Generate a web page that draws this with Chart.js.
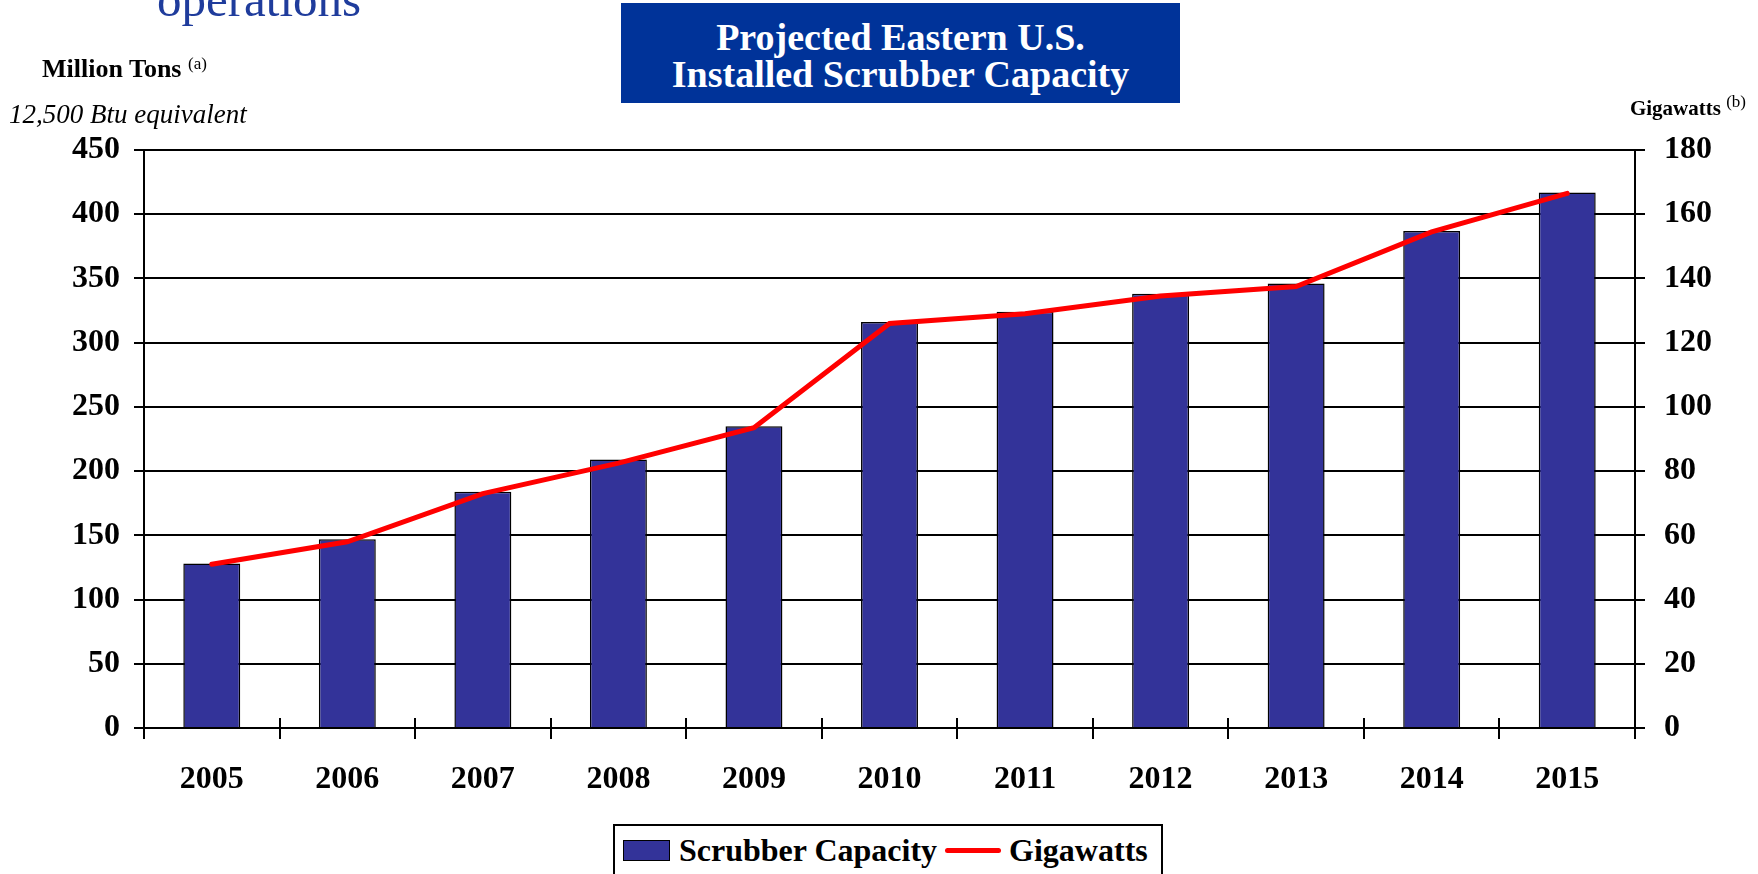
<!DOCTYPE html>
<html>
<head>
<meta charset="utf-8">
<script src="https://cdn.jsdelivr.net/npm/chart.js@4"></script>
<style>
  html, body { margin: 0; padding: 0; background: #fff; }
  #wrap { position: relative; width: 1758px; height: 874px; overflow: hidden; font-family: "Liberation Serif", "Times New Roman", serif; color: #000; }
  #chartBox { position: absolute; left: 0; top: 0; width: 1758px; height: 874px; }
  .txt { position: absolute; white-space: nowrap; }
  .slideHead { left: 157px; top: -25px; font-size: 49px; line-height: 49px; color: #1f3c9c; }
  .titleBox { left: 621px; top: 3px; width: 559px; height: 100px; background: #003399; color: #fff; font-weight: bold; font-size: 38px; line-height: 37px; text-align: center; box-sizing: border-box; padding-top: 16px; }
  .unitLeft { left: 42px; top: 49px; font-size: 26px; font-weight: bold; line-height: 30px; }
  .unitSub { left: 9px; top: 99px; font-size: 27px; font-style: italic; line-height: 30px; }
  .unitRight { right: 12px; top: 89px; font-size: 21px; font-weight: bold; line-height: 26px; }
  .note { font-size: 17px; font-weight: normal; vertical-align: 8px; }
  #legend { position: absolute; left: 613px; top: 824px; width: 550px; height: 52px; border: 2px solid #000; box-sizing: border-box; background: #fff; display: flex; align-items: center; padding-left: 8px; font-weight: bold; font-size: 32px; }
  .lgItem { display: flex; align-items: center; margin-right: 8px; }
  .lgBar { width: 45px; height: 19px; border: 1.5px solid #000; margin-right: 9px; }
  .lgLine { width: 56px; height: 5px; margin-right: 8px; border-radius: 3px; }
</style>
</head>
<body>
<div id="wrap">
  <div id="chartBox"><canvas id="scrubberChart"></canvas></div>
  <div class="txt slideHead">operations</div>
  <div class="txt titleBox">Projected Eastern U.S.<br>Installed Scrubber Capacity</div>
  <div class="txt unitLeft">Million Tons <span class="note">(a)</span></div>
  <div class="txt unitSub">12,500 Btu equivalent</div>
  <div class="txt unitRight">Gigawatts <span class="note">(b)</span></div>
  <div id="legend"></div>
</div>
<script>
"use strict";

// Data
const years = ['2005', '2006', '2007', '2008', '2009', '2010', '2011', '2012', '2013', '2014', '2015'];
const scrubberCapacity = [128, 147, 184, 209, 235, 316, 324, 338, 346, 387, 417];
const gigawatts = [51, 58, 73, 82.5, 93.5, 126, 129, 134.5, 137.5, 154.5, 166.5];

// Axis ranges
const tonsAxis = { min: 0, max: 450, step: 50 };
const gwAxis = { min: 0, max: 180, step: 20 };

const tickFont = { family: "'Liberation Serif', 'Times New Roman', serif", size: 32, weight: 'bold' };

// Short inward tick marks on the category axis
const innerTicks = {
    id: 'innerTicks',
    afterDatasetsDraw(chart) {
        const x = chart.scales.x;
        const ctx = chart.ctx;
        const bottom = chart.chartArea.bottom;
        const step = (x.right - x.left) / years.length;
        ctx.save();
        ctx.strokeStyle = '#000';
        ctx.lineWidth = 2;
        for (let i = 1; i < years.length; i++) {
            const px = Math.round(x.left + i * step);
            ctx.beginPath();
            ctx.moveTo(px, bottom - 10);
            ctx.lineTo(px, bottom);
            ctx.stroke();
        }
        ctx.restore();
    }
};

const ctx = document.getElementById('scrubberChart').getContext('2d');
const chart = new Chart(ctx, {
    data: {
        labels: years,
        datasets: [{
            type: 'line',
            label: 'Gigawatts',
            data: gigawatts,
            yAxisID: 'y1',
            borderColor: '#ff0000',
            backgroundColor: '#ff0000',
            borderWidth: 5,
            borderCapStyle: 'round',
            pointRadius: 0,
            tension: 0,
            order: 0
        }, {
            type: 'bar',
            label: 'Scrubber Capacity',
            data: scrubberCapacity,
            yAxisID: 'y',
            backgroundColor: '#333399',
            borderColor: '#000',
            borderWidth: 1.5,
            categoryPercentage: 1,
            barPercentage: 0.42,
            order: 1
        }]
    },
    plugins: [innerTicks],
    options: {
        responsive: true,
        maintainAspectRatio: false,
        animation: false,
        layout: { padding: { top: 150, left: 0, right: 0, bottom: 0 } },
        plugins: {
            legend: { display: false },
            title: { display: false },
            tooltip: { enabled: false }
        },
        scales: {
            x: {
                offset: true,
                grid: { offset: true, drawOnChartArea: false, drawTicks: true, tickLength: 11, color: '#000', lineWidth: 2 },
                border: { display: true, color: '#000', width: 2 },
                ticks: { font: tickFont, color: '#000', padding: 22, maxRotation: 0 },
                afterFit: (scale) => { scale.height = 146; }
            },
            y: {
                position: 'left',
                min: tonsAxis.min,
                max: tonsAxis.max,
                ticks: { stepSize: tonsAxis.step, font: tickFont, color: '#000', padding: 14 },
                grid: { color: '#000', lineWidth: 2, tickLength: 10 },
                border: { display: true, color: '#000', width: 2 },
                afterFit: (scale) => { scale.width = 144; }
            },
            y1: {
                position: 'right',
                min: gwAxis.min,
                max: gwAxis.max,
                ticks: { stepSize: gwAxis.step, font: tickFont, color: '#000', padding: 19 },
                grid: { drawOnChartArea: false, color: '#000', lineWidth: 2, tickLength: 10 },
                border: { display: true, color: '#000', width: 2 },
                afterFit: (scale) => { scale.width = 123; }
            }
        }
    }
});

// Legend built from the datasets, bars first
const legendEl = document.getElementById('legend');
const legendOrder = [...chart.data.datasets].sort((a, b) => b.order - a.order);
legendEl.innerHTML = legendOrder.map(ds => {
    const mark = ds.type === 'bar'
        ? `<span class="lgBar" style="background:${ds.backgroundColor}"></span>`
        : `<span class="lgLine" style="background:${ds.borderColor}"></span>`;
    return `<span class="lgItem">${mark}<span>${ds.label}</span></span>`;
}).join('');
</script>
</body>
</html>
